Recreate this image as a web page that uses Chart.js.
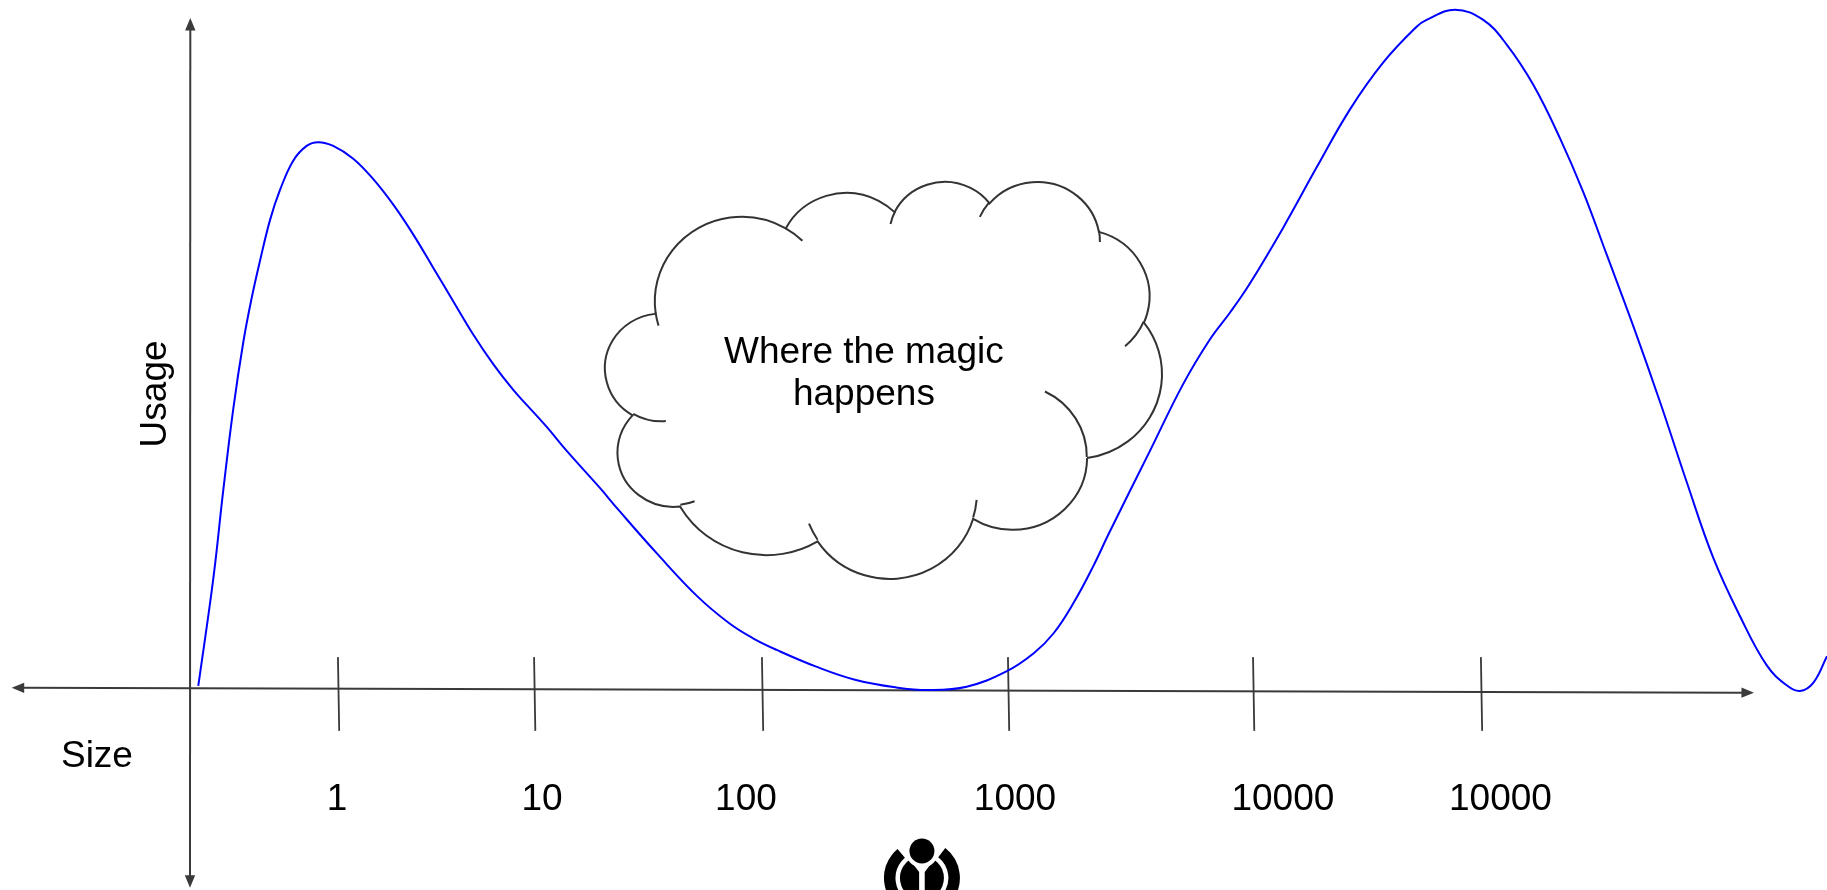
<!DOCTYPE html>
<html><head><meta charset="utf-8">
<script src="https://cdn.jsdelivr.net/npm/chart.js@4.4.1/dist/chart.umd.min.js"></script>
<style>html,body{margin:0;padding:0;background:#fff;overflow:hidden}canvas{display:block}</style>
</head><body>
<canvas id="c" width="1827" height="890"></canvas>
<script>
// ---- data (x: position along the Size axis, 0 = origin, 100 = arrow tip; y: Usage, 0 = baseline, 100 = arrow tip)
const sizeTickLabels = ['1', '10', '100', '1000', '10000', '10000'];
const sizeTickPos    = [9.46, 22.0, 36.57, 52.3, 67.97, 82.54];
const sizeLabelPos   = [9.40, 22.51, 35.55, 52.75, 69.88, 83.79];

const curveX = [0.53, 1.49, 2.13, 2.77, 3.41, 3.95, 4.48, 5.12, 5.75, 6.60, 7.46, 8.20, 9.16, 10.44, 11.72, 13.01,
  14.28, 15.56, 16.83, 18.11, 19.39, 20.67, 21.53, 22.81, 24.09, 26.21, 27.40, 29.94, 32.46, 34.48, 36.0, 37.52,
  40.04, 42.58, 45.10, 47.25, 49.66, 52.17, 53.95, 55.22, 56.48, 57.74, 58.76, 61.38, 63.51, 65.22, 66.50,
  67.77, 69.90, 72.04, 74.17, 76.30, 78.43, 79.07, 80.88, 82.69, 84.19, 85.89, 87.60, 89.08, 90.58, 92.28, 93.99,
  95.70, 97.40, 99.10, 100.81, 102.09, 102.94, 103.79, 104.67];
const curveY = [0.30, 16.30, 29.53, 41.67, 51.60, 58.22, 63.74, 69.81, 74.23, 78.64, 80.85, 81.40, 80.85, 78.93, 75.88, 72.04,
  67.61, 62.64, 57.67, 52.71, 48.29, 44.44, 42.22, 38.93, 35.35, 29.83, 26.55, 19.84, 13.62, 9.65, 7.41, 5.67,
  3.18, 1.19, 0.10, -0.30, 0.19, 2.43, 5.18, 8.16, 12.63, 18.09, 23.07, 35.36, 45.35, 52.01, 56.00,
  60.33, 68.65, 77.64, 86.29, 93.29, 98.61, 99.63, 101.15, 99.63, 95.96, 89.96, 81.97, 73.97, 64.65, 54.00, 42.68,
  30.71, 19.39, 10.74, 3.40, 0.40, -0.45, 0.75, 4.73];

const xAxisTitle = 'Size';
const yAxisTitle = 'Usage';
const cloudText = ['Where the magic', 'happens'];

// ---- layout / style
const X_MIN = -12.148, X_MAX = 104.67, Y_MIN = -30.13, Y_MAX = 102.6;
const AXIS_COLOR = '#3a3a3a';
const FONT = '37px "Liberation Sans", Arial, sans-serif';

// OOXML cloud shape (43200 x 43200 path space)
const CLOUD_MAIN = [
 ['M',3900,14370],
 ['A',6753,9190,-11429249,7426832],
 ['A',5333,7267,-8646143,5396714],
 ['A',4365,5945,-8748475,5983381],
 ['A',4857,6595,-7859164,7034504],
 ['A',5333,7273,-4722533,6541615],
 ['A',6775,9220,-2776035,7816140],
 ['A',5785,7867,37501,6842000],
 ['A',6752,9215,1347096,6910353],
 ['A',7720,10543,3974558,4542661],
 ['A',4360,5918,-16496525,8804134],
 ['A',4345,5945,-14809710,9151131]
];
const CLOUD_HOOKS = [
 ['M',4693,26177],['A',4345,5945,5204520,1585770],
 ['M',6928,34899],['A',4360,5918,4416628,686848],
 ['M',16478,39090],['A',6752,9215,8257449,844866],
 ['M',28827,34751],['A',6752,9215,387196,959901],
 ['M',34129,22954],['A',5785,7867,-4217541,4255042],
 ['M',41798,15354],['A',5333,7273,1819082,1665090],
 ['M',38324,5426],['A',4857,6595,-824660,891534],
 ['M',29078,3952],['A',4857,6595,-8950887,1091722],
 ['M',22141,4720],['A',4365,5945,-9809656,1061181],
 ['M',14000,5192],['A',6753,9190,-4002417,739161],
 ['M',4127,15789],['A',6753,9190,9459261,711490]
];

function buildSegs(cmds){
  const segs=[]; let cur=[0,0];
  for(const c of cmds){
    if(c[0]==='M'){ cur=[c[1],c[2]]; segs.push({t:'M',x:c[1],y:c[2]}); continue; }
    const wR=c[1], hR=c[2], st=c[3]/60000*Math.PI/180, sw=c[4]/60000*Math.PI/180;
    const t0=Math.atan2(wR*Math.sin(st), hR*Math.cos(st));
    const t1=Math.atan2(wR*Math.sin(st+sw), hR*Math.cos(st+sw));
    const cx=cur[0]-wR*Math.cos(t0), cy=cur[1]-hR*Math.sin(t0);
    let d=t1-t0;
    if(sw>0){ while(d<=0) d+=2*Math.PI; } else { while(d>=0) d-=2*Math.PI; }
    segs.push({t:'A',cx,cy,rx:wR,ry:hR,a0:t0,a1:t0+d});
    cur=[cx+wR*Math.cos(t0+d), cy+hR*Math.sin(t0+d)];
  }
  return segs;
}
const mainSegs=buildSegs(CLOUD_MAIN), hookSegs=buildSegs(CLOUD_HOOKS);
function segExtent(segs){
  let mnx=1e9,mny=1e9,mxx=-1e9,mxy=-1e9;
  for(const s of segs){ if(s.t!=='A') continue;
    for(let i=0;i<=60;i++){ const a=s.a0+(s.a1-s.a0)*i/60; const x=s.cx+s.rx*Math.cos(a), y=s.cy+s.ry*Math.sin(a);
      mnx=Math.min(mnx,x); mxx=Math.max(mxx,x); mny=Math.min(mny,y); mxy=Math.max(mxy,y); } }
  return {mnx,mny,mxx,mxy};
}
function tracePath(ctx, segs){
  for(const s of segs){
    if(s.t==='M') ctx.moveTo(s.x,s.y);
    else ctx.ellipse(s.cx,s.cy,s.rx,s.ry,0,s.a0,s.a1,s.a1<s.a0);
  }
}
function drawCloud(ctx, left, top, right, bottom){
  const e=segExtent(mainSegs);
  const sx=(right-left)/(e.mxx-e.mnx), sy=(bottom-top)/(e.mxy-e.mny);
  const apply=()=>{ ctx.translate(left-e.mnx*sx, top-e.mny*sy); ctx.scale(sx,sy); };
  ctx.save();
  ctx.beginPath(); ctx.save(); apply(); tracePath(ctx, mainSegs); ctx.closePath(); ctx.restore();
  ctx.fillStyle='#fff'; ctx.fill();
  ctx.strokeStyle='#333'; ctx.lineWidth=2; ctx.stroke();
  ctx.beginPath(); ctx.save(); apply(); tracePath(ctx, hookSegs); ctx.restore();
  ctx.stroke();
  ctx.restore();
}
function doubleArrow(ctx, a, b, len, half){
  const dx=b[0]-a[0], dy=b[1]-a[1], L=Math.hypot(dx,dy), ux=dx/L, uy=dy/L;
  ctx.beginPath(); ctx.moveTo(a[0]+ux*len*0.8, a[1]+uy*len*0.8); ctx.lineTo(b[0]-ux*len*0.8, b[1]-uy*len*0.8); ctx.stroke();
  for(const [p,s] of [[b,1],[a,-1]]){
    const vx=ux*s, vy=uy*s;
    ctx.beginPath(); ctx.moveTo(p[0],p[1]);
    ctx.lineTo(p[0]-vx*len-vy*half, p[1]-vy*len+vx*half);
    ctx.lineTo(p[0]-vx*len+vy*half, p[1]-vy*len-vx*half);
    ctx.closePath(); ctx.fill();
  }
}
function drawLogo(ctx, cx, cy){
  ctx.save();
  ctx.fillStyle='#000'; ctx.strokeStyle='#000';
  ctx.lineWidth=11.5; ctx.lineCap='butt';
  ctx.beginPath(); ctx.arc(cx, cy, 32.2, -52*Math.PI/180, 230*Math.PI/180); ctx.stroke();
  ctx.beginPath(); ctx.arc(cx, cy, 22, 0, Math.PI*2); ctx.fill();
  ctx.fillStyle='#fff';
  ctx.beginPath(); ctx.moveTo(cx-2.8, cy-6); ctx.lineTo(cx-15, cy-22); ctx.lineTo(cx+15, cy-22); ctx.lineTo(cx+2.8, cy-6); ctx.lineTo(cx+2.8, cy+30); ctx.lineTo(cx-2.8, cy+30); ctx.closePath(); ctx.fill();
  ctx.beginPath(); ctx.arc(cx, cy-27, 16.5, 0, Math.PI*2); ctx.fill();
  ctx.fillStyle='#000';
  ctx.beginPath(); ctx.arc(cx, cy-27, 12.5, 0, Math.PI*2); ctx.fill();
  ctx.restore();
}

const overlay = {
  id: 'overlay',
  beforeDatasetsDraw(chart){
    const {ctx} = chart, xs = chart.scales.x, ys = chart.scales.y;
    const P = (x,y) => [xs.getPixelForValue(x), ys.getPixelForValue(y)];
    ctx.save();
    ctx.strokeStyle = AXIS_COLOR; ctx.fillStyle = AXIS_COLOR; ctx.lineWidth = 2;
    doubleArrow(ctx, P(-11.4, 0.02), P(100, -0.70), 12.5, 5.2);
    doubleArrow(ctx, P(0, -29.8), P(0.02, 99.9), 12.5, 5.2);
    ctx.lineWidth = 1.8;
    sizeTickPos.forEach(x => {
      const a = P(x, 4.6), b = P(x + 0.08, -6.4);
      ctx.beginPath(); ctx.moveTo(a[0], a[1]); ctx.lineTo(b[0], b[1]); ctx.stroke();
    });
    ctx.fillStyle = '#000'; ctx.font = FONT; ctx.textAlign = 'center'; ctx.textBaseline = 'alphabetic';
    sizeTickLabels.forEach((t, i) => { const p = P(sizeLabelPos[i], -18.2); ctx.fillText(t, p[0], p[1]); });
    const sp = P(-5.95, -11.74); ctx.fillText(xAxisTitle, sp[0], sp[1]);
    const up = P(-1.53, 43.85);
    ctx.save(); ctx.translate(up[0], up[1]); ctx.rotate(-Math.PI/2); ctx.fillText(yAxisTitle, 0, 0); ctx.restore();
    ctx.restore();
  },
  afterDatasetsDraw(chart){
    const {ctx} = chart, xs = chart.scales.x, ys = chart.scales.y;
    const P = (x,y) => [xs.getPixelForValue(x), ys.getPixelForValue(y)];
    const tl = P(26.53, 75.47), br = P(62.15, 16.26);
    drawCloud(ctx, tl[0], tl[1], br[0], br[1]);
    ctx.save();
    ctx.fillStyle = '#000'; ctx.font = FONT; ctx.textAlign = 'center'; ctx.textBaseline = 'alphabetic';
    const t1 = P(43.09, 48.52), t2 = P(43.09, 42.21);
    ctx.fillText(cloudText[0], t1[0], t1[1]);
    ctx.fillText(cloudText[1], t2[0], t2[1]);
    ctx.restore();
    const lg = P(46.80, -28.34);
    drawLogo(ctx, lg[0], lg[1]);
  }
};

new Chart(document.getElementById('c').getContext('2d'), {
  type: 'line',
  data: {
    datasets: [{
      data: curveX.map((x, i) => ({x, y: curveY[i]})),
      borderColor: '#0000ff', borderWidth: 2, pointRadius: 0,
      tension: 0.4, cubicInterpolationMode: 'default', fill: false
    }]
  },
  options: {
    responsive: false, animation: false, devicePixelRatio: 1,
    layout: { padding: 0 },
    plugins: { legend: { display: false }, tooltip: { enabled: false } },
    scales: {
      x: { type: 'linear', display: false, min: X_MIN, max: X_MAX },
      y: { type: 'linear', display: false, min: Y_MIN, max: Y_MAX }
    }
  },
  plugins: [overlay]
});
</script>
</body></html>
